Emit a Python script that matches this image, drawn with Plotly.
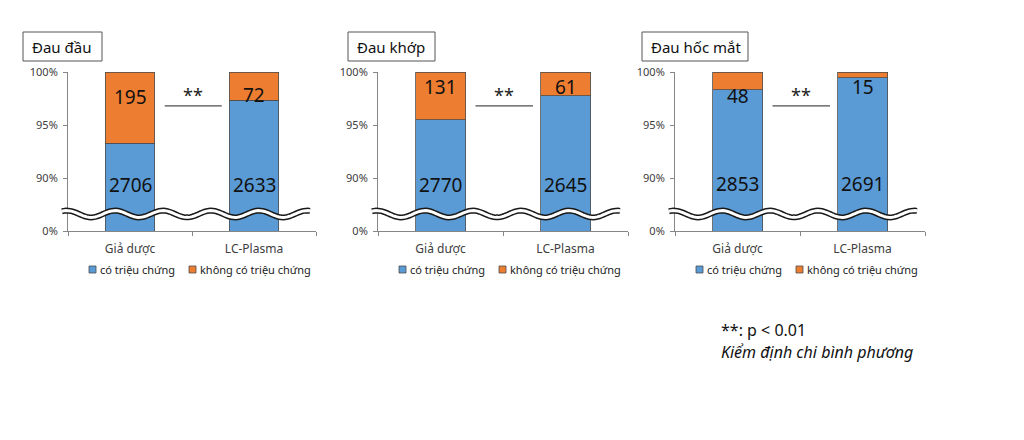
import math
import plotly.graph_objects as go
from plotly.subplots import make_subplots

# ---------------- data ----------------
panel_titles = ["Đau đầu", "Đau khớp", "Đau hốc mắt"]
categories = ["Giả dược", "LC-Plasma"]
with_symptom = [[2706, 2633], [2770, 2645], [2853, 2691]]      # blue
without_symptom = [[195, 72], [131, 61], [48, 15]]             # orange
series_names = ["có triệu chứng", "không có triệu chứng"]
y_tick_vals = [85, 90, 95, 100]
y_tick_text = ["0%", "90%", "95%", "100%"]
significance = ["**", "**", "**"]
footnote_1 = "**: p < 0.01"
footnote_2 = "Kiểm định chi bình phương"

# label heights (percent) for value labels
blue_label_y = [[89.3, 89.3], [89.3, 89.3], [89.4, 89.4]]
orange_label_y = [[97.6, 97.8], [98.6, 98.6], [97.7, 98.6]]

# ---------------- style ----------------
BLUE = "#5B9BD5"
ORANGE = "#ED7D31"
EDGE = "#4d4d4d"
AXIS = "#868686"
FONT = "Noto Sans"
W, H = 1024, 440
OFF = 8  # page body margin
panel_px = [(68, 316), (378, 628), (675, 925)]
y_top_px, y_bot_px = 72, 231
title_box_px = [(23, 102), (348, 435), (642, 748)]

fig = make_subplots(rows=1, cols=3)

for i in range(3):
    tot = [a + b for a, b in zip(with_symptom[i], without_symptom[i])]
    p_blue = [100.0 * a / t for a, t in zip(with_symptom[i], tot)]
    p_orange = [100.0 * b / t for b, t in zip(without_symptom[i], tot)]
    fig.add_trace(go.Bar(x=[0, 1], y=p_blue, width=0.4, name=series_names[0],
                         marker=dict(color=BLUE, line=dict(color=EDGE, width=0.8)),
                         showlegend=False, hoverinfo="skip"), row=1, col=i + 1)
    fig.add_trace(go.Bar(x=[0, 1], y=p_orange, width=0.4, name=series_names[1],
                         marker=dict(color=ORANGE, line=dict(color=EDGE, width=0.8)),
                         showlegend=False, hoverinfo="skip"), row=1, col=i + 1)

fig.update_layout(barmode="stack")

shapes = []
annotations = []

def px2x(px):
    return (px - OFF) / W

def px2y(py):
    return 1 - (py - OFF) / H

for i in range(3):
    xa = "xaxis" if i == 0 else f"xaxis{i+1}"
    ya = "yaxis" if i == 0 else f"yaxis{i+1}"
    xr = "x" if i == 0 else f"x{i+1}"
    yr = "y" if i == 0 else f"y{i+1}"
    x0p, x1p = panel_px[i]
    fig.layout[xa].update(
        domain=[px2x(x0p), px2x(x1p)], range=[-0.5, 1.5],
        tickvals=[0, 1], ticktext=categories, ticks="", ticklabelstandoff=7,
        showline=True, linecolor=AXIS, linewidth=1, showgrid=False, zeroline=False,
        tickfont=dict(family=FONT, size=12, color="#404040"),
        minor=dict(tickvals=[-0.5, 0.5, 1.5], ticks="outside", ticklen=4,
                   tickcolor=AXIS, tickwidth=1, showgrid=False),
        fixedrange=True, automargin=False,
    )
    fig.layout[ya].update(
        domain=[px2y(y_bot_px), px2y(y_top_px)], range=[85, 100],
        tickvals=y_tick_vals, ticktext=y_tick_text, ticks="outside", ticklen=4,
        tickcolor=AXIS, ticklabelstandoff=3,
        showline=True, linecolor=AXIS, linewidth=1, showgrid=False, zeroline=False,
        tickfont=dict(family=FONT, size=11, color="#404040"),
        fixedrange=True, automargin=False,
    )

    # value labels
    for j in range(2):
        annotations.append(dict(x=j, y=blue_label_y[i][j], xref=xr, yref=yr,
                                text=str(with_symptom[i][j]), showarrow=False,
                                font=dict(family=FONT, size=19, color="#111111")))
        annotations.append(dict(x=j, y=orange_label_y[i][j], xref=xr, yref=yr,
                                text=str(without_symptom[i][j]), showarrow=False,
                                font=dict(family=FONT, size=19, color="#111111")))

    # significance bracket
    shapes.append(dict(type="line", xref=xr, yref=yr, x0=0.28, x1=0.74, y0=96.8, y1=96.8,
                       line=dict(color="#222222", width=1)))
    annotations.append(dict(x=0.51, y=97.85, xref=xr, yref=yr, text=significance[i],
                            showarrow=False, font=dict(family=FONT, size=18, color="#222222")))

    # axis break (wavy band)
    wx0, wx1 = x0p - 6, x0p + 242
    yc, A, P = 214, 3.4, 48
    pts = []
    n = 120
    for k in range(n + 1):
        xx = wx0 + (wx1 - wx0) * k / n
        yy = yc - A * math.cos(2 * math.pi * (xx - wx0 - 5) / P)
        pts.append((px2x(xx), px2y(yy)))
    path = "M " + " L ".join(f"{a:.5f},{b:.5f}" for a, b in pts)
    shapes.append(dict(type="path", xref="paper", yref="paper", path=path,
                       line=dict(color="#1a1a1a", width=6), layer="above"))
    shapes.append(dict(type="path", xref="paper", yref="paper", path=path,
                       line=dict(color="white", width=3), layer="above"))

    # title box
    bx0, bx1 = title_box_px[i]
    shapes.append(dict(type="rect", xref="paper", yref="paper",
                       x0=px2x(bx0), x1=px2x(bx1), y0=px2y(61), y1=px2y(32),
                       line=dict(color="#555555", width=1), fillcolor="white"))
    annotations.append(dict(x=px2x(bx0 + 7), y=px2y(46.5), xref="paper", yref="paper",
                            xanchor="left", yanchor="middle", text=panel_titles[i],
                            showarrow=False, font=dict(family=FONT, size=15, color="#111111")))

    # legend (manual)
    for s, (off, col) in enumerate([(21, BLUE), (121, ORANGE)]):
        sx = x0p + off
        shapes.append(dict(type="rect", xref="paper", yref="paper",
                           x0=px2x(sx), x1=px2x(sx + 7), y0=px2y(273), y1=px2y(266),
                           fillcolor=col, line=dict(color=EDGE, width=0.8)))
        annotations.append(dict(x=px2x(sx + 9), y=px2y(269.5), xref="paper", yref="paper",
                                xanchor="left", yanchor="middle", text=series_names[s],
                                showarrow=False, font=dict(family=FONT, size=11, color="#222222")))

# footnote
annotations.append(dict(x=px2x(719), y=px2y(330), xref="paper", yref="paper",
                        xanchor="left", yanchor="middle", text=footnote_1, showarrow=False,
                        font=dict(family=FONT, size=16, color="#111111")))
annotations.append(dict(x=px2x(719), y=px2y(352), xref="paper", yref="paper",
                        xanchor="left", yanchor="middle", text="<i>" + footnote_2 + "</i>",
                        showarrow=False, font=dict(family=FONT, size=16, color="#111111")))

fig.update_layout(
    width=W, height=H, margin=dict(l=0, r=0, t=0, b=0, pad=0, autoexpand=False),
    paper_bgcolor="white", plot_bgcolor="white",
    shapes=shapes, annotations=annotations, showlegend=False,
    font=dict(family=FONT),
)

fig.write_html("out.html", config={"displayModeBar": False})
